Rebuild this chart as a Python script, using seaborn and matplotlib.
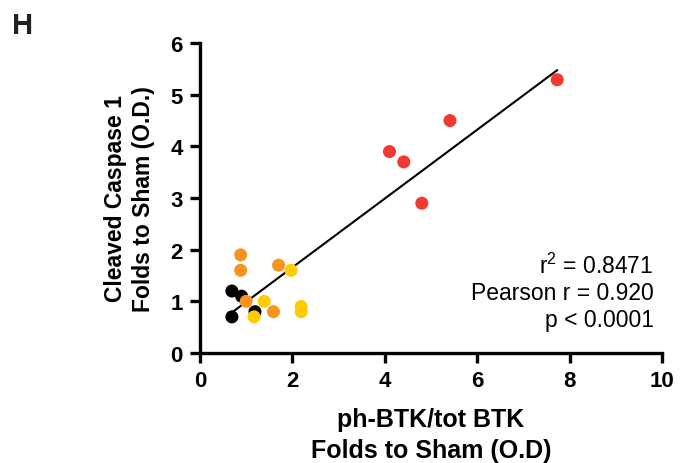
import matplotlib
matplotlib.use("Agg")
import matplotlib.pyplot as plt
import seaborn as sns
import pandas as pd

# Data
red_x = [4.10, 4.41, 5.41, 4.80, 7.73]
red_y = [3.90, 3.70, 4.50, 2.90, 5.29]
orange_x = [0.88, 0.88, 1.70, 1.00, 1.59]
orange_y = [1.90, 1.60, 1.70, 1.00, 0.80]
yellow_x = [1.97, 1.39, 1.17, 2.19, 2.19]
yellow_y = [1.60, 1.00, 0.70, 0.90, 0.80]
black_x = [0.69, 0.90, 1.19, 0.69]
black_y = [1.20, 1.10, 0.80, 0.70]

x_ticks = [0, 2, 4, 6, 8, 10]
y_ticks = [0, 1, 2, 3, 4, 5, 6]
stats_text = "r$^2$ = 0.8471\nPearson r = 0.920\np < 0.0001"

groups = [("black", black_x, black_y, "#000000"),
          ("orange", orange_x, orange_y, "#F7941D"),
          ("yellow", yellow_x, yellow_y, "#FFCC00"),
          ("red", red_x, red_y, "#EF3B2F")]
rows = []
for name, xs, ys, _ in groups:
    for a, b in zip(xs, ys):
        rows.append({"x": a, "y": b, "group": name})
df = pd.DataFrame(rows)
palette = {g[0]: g[3] for g in groups}

sns.set_style("ticks")
plt.rcParams['font.family'] = ['Liberation Sans', 'DejaVu Sans']
plt.rcParams['text.color'] = 'black'
plt.rcParams['axes.labelcolor'] = 'black'
plt.rcParams['xtick.color'] = 'black'
plt.rcParams['ytick.color'] = 'black'
plt.rcParams['axes.edgecolor'] = 'black'
plt.rcParams['mathtext.fontset'] = 'custom'
plt.rcParams['mathtext.rm'] = 'Liberation Sans'

fig = plt.figure(figsize=(6.84, 4.64), dpi=100)
ax = fig.add_axes([0.2924, 0.237, 0.6756, 0.668])

sns.regplot(data=df, x="x", y="y", scatter=False, ci=None, truncate=True,
            line_kws={"color": "black", "lw": 1.5}, ax=ax)
sns.scatterplot(data=df, x="x", y="y", hue="group", palette=palette,
                s=88, edgecolor="none", legend=False, ax=ax, zorder=3,
                clip_on=False)

ax.set_xlim(0, 10)
ax.set_ylim(0, 6)
ax.set_xticks(x_ticks)
ax.set_yticks(y_ticks)
ax.set_xticklabels([str(t) for t in x_ticks], fontsize=16, fontweight="bold")
ax.set_yticklabels([str(t) for t in y_ticks], fontsize=16, fontweight="bold")
for s in ["top", "right"]:
    ax.spines[s].set_visible(False)
for s in ["left", "bottom"]:
    ax.spines[s].set_linewidth(2.4)
ax.tick_params(axis="both", width=2.4, length=7.5, direction="out", pad=5)

ax.set_xlabel("ph-BTK/tot BTK\nFolds to Sham (O.D)", fontsize=18,
              fontweight="bold", labelpad=11, linespacing=1.4)
ax.set_ylabel("Cleaved Caspase 1\nFolds to Sham (O.D.)", fontsize=16.5,
              fontweight="bold", labelpad=11, linespacing=1.25)

ax.text(0.982, 0.325, stats_text, transform=ax.transAxes, ha="right",
        va="top", fontsize=16.5, linespacing=1.2)

fig.text(0.017, 0.975, "H", fontsize=21, fontweight="bold", va="top",
         color="#222222")

fig.savefig("out.png", dpi=100)
